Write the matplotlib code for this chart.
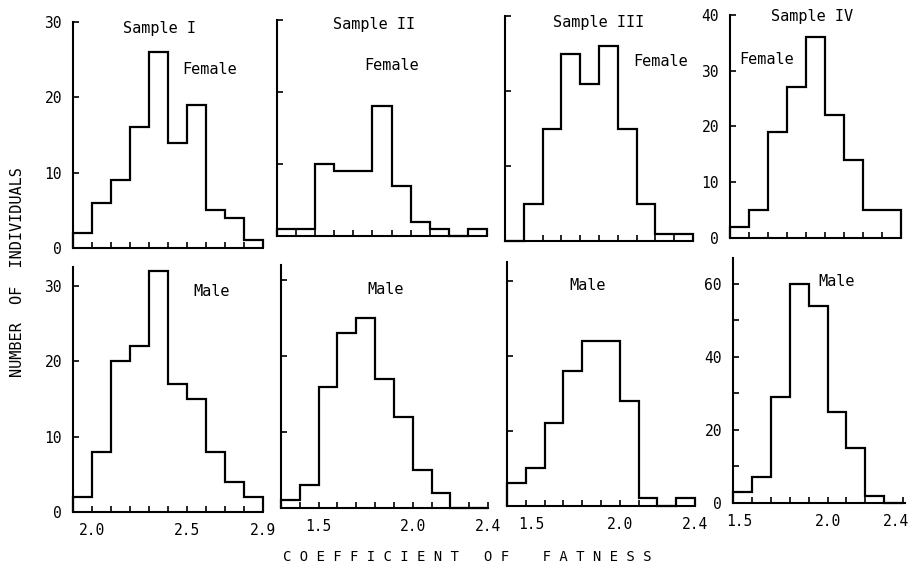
import matplotlib
matplotlib.use('Agg')
import matplotlib.pyplot as plt
from matplotlib.ticker import FixedLocator
from matplotlib.transforms import ScaledTranslation

W, H = 912, 571
fig = plt.figure(figsize=(W / 100, H / 100), dpi=100)
plt.rcParams['font.family'] = ['DejaVu Sans Mono', 'DejaVu Sans']

# ---------------- data ----------------
sample_names = ['Sample I', 'Sample II', 'Sample III', 'Sample IV']

edges_I = [1.9, 2.0, 2.1, 2.2, 2.3, 2.4, 2.5, 2.6, 2.7, 2.8, 2.9]
edges_II = [1.3, 1.4, 1.5, 1.6, 1.7, 1.8, 1.9, 2.0, 2.1, 2.2, 2.3, 2.4]
edges_III = [1.4, 1.5, 1.6, 1.7, 1.8, 1.9, 2.0, 2.1, 2.2, 2.3, 2.4]
edges_IV = [1.5, 1.6, 1.7, 1.8, 1.9, 2.0, 2.1, 2.2, 2.3, 2.4]

female_I = [2, 6, 9, 16, 26, 14, 19, 5, 4, 1]
male_I = [2, 8, 20, 22, 32, 17, 15, 8, 4, 2]
female_II = [1, 1, 10, 9, 9, 18, 7, 2, 1, 0, 1]
male_II = [1, 3, 16, 23, 25, 17, 12, 5, 2, 0, 0]
female_III = [0, 5, 15, 25, 21, 26, 15, 5, 1, 1]
male_III = [3, 5, 11, 18, 22, 22, 14, 1, 0, 1]
female_IV = [2, 5, 19, 27, 36, 22, 14, 5, 5]
male_IV = [3, 7, 29, 60, 54, 25, 15, 2, 0]

xlabels_I = ['2.0', '2.5', '2.9']
xlabels_II = ['1.5', '2.0', '2.4']
xlabels_III = ['1.5', '2.0', '2.4']
xlabels_IV = ['1.5', '2.0', '2.4']

yticks_30 = [0, 10, 20, 30]
yticks_female_IV = [0, 10, 20, 30, 40]
yticks_male_IV = [0, 20, 40, 60]
yminor_male_IV = [10, 30, 50]

ylabel_text = 'NUMBER  OF  INDIVIDUALS'
xlabel_text = 'C O E F F I C I E N T   O F    F A T N E S S'

# ---------------- layout (pixel boxes: left, right, bottom, top) ----------------
panels = [
    dict(edges=edges_I, vals=female_I, box=(73, 263, 248, 22), ytop=30, yt=yticks_30, ylab=True,
         xl=None, sex='Female', sexpos=(210, 69), title=sample_names[0], tpos=(160, 29)),
    dict(edges=edges_II, vals=female_II, box=(277, 487, 236, 20), ytop=30, yt=yticks_30, ylab=False,
         xl=None, sex='Female', sexpos=(392, 66), title=sample_names[1], tpos=(374, 25)),
    dict(edges=edges_III, vals=female_III, box=(505, 693, 241, 16), ytop=30, yt=yticks_30, ylab=False,
         xl=None, sex='Female', sexpos=(661, 62), title=sample_names[2], tpos=(599, 22)),
    dict(edges=edges_IV, vals=female_IV, box=(730, 901, 238, 15), ytop=40, yt=yticks_female_IV, ylab=True,
         xl=None, sex='Female', sexpos=(767, 59), title=sample_names[3], tpos=(812, 17)),
    dict(edges=edges_I, vals=male_I, box=(73, 263, 512, 267), ytop=32.5, yt=yticks_30, ylab=True,
         xl=xlabels_I, sex='Male', sexpos=(212, 292), title=None, tpos=None),
    dict(edges=edges_II, vals=male_II, box=(281, 488, 508, 265), ytop=32, yt=yticks_30, ylab=False,
         xl=xlabels_II, sex='Male', sexpos=(386, 289), title=None, tpos=None),
    dict(edges=edges_III, vals=male_III, box=(507, 695, 506, 262), ytop=32.5, yt=yticks_30, ylab=False,
         xl=xlabels_III, sex='Male', sexpos=(588, 286), title=None, tpos=None, shift_first=True),
    dict(edges=edges_IV, vals=male_IV, box=(733, 905, 503, 258), ytop=67, yt=yticks_male_IV, ylab=True,
         xl=xlabels_IV, sex='Male', sexpos=(837, 281), title=None, tpos=None, minor=yminor_male_IV,
         shift_last=True, shift_first=True),
]


def fx(x):
    return x / W


def fy(y):
    return 1 - y / H


for p in panels:
    l, r, b, t = p['box']
    ax = fig.add_axes([fx(l), fy(b), (r - l) / W, (b - t) / H])
    e = p['edges']
    ax.stairs(p['vals'], e, baseline=0, color='black', linewidth=1.6, clip_on=False)
    xmax = e[-1] + (0.01 if r > 903 else 0)
    ax.set_xlim(e[0], xmax)
    ax.set_ylim(0, p['ytop'])
    for s in ('top', 'right'):
        ax.spines[s].set_visible(False)
    for s in ('left', 'bottom'):
        ax.spines[s].set_linewidth(1.5)
    ticks = [round(v, 1) for v in e]
    ax.set_xticks(ticks)
    if p['xl'] is None:
        ax.set_xticklabels([])
    else:
        lab = [f'{v:.1f}' if f'{v:.1f}' in p['xl'] else '' for v in ticks]
        ax.set_xticklabels(lab)
    ax.set_yticks(p['yt'])
    if p['ylab']:
        ax.set_yticklabels([str(v) for v in p['yt']])
    else:
        ax.set_yticklabels([])
    if 'minor' in p:
        ax.yaxis.set_minor_locator(FixedLocator(p['minor']))
        ax.tick_params(axis='y', which='minor', direction='in', length=4, width=1.2)
    ax.tick_params(axis='both', which='major', direction='in', length=4, width=1.2,
                   labelsize=10.5)
    ax.tick_params(axis='x', pad=8)
    ax.tick_params(axis='y', pad=8)
    ax.patch.set_alpha(0)
    labels = ax.get_xticklabels()
    if p.get('shift_last'):
        lbl = labels[-1]
        lbl.set_transform(lbl.get_transform() + ScaledTranslation(-7 / 100, 0, fig.dpi_scale_trans))
    if p.get('shift_first'):
        for lbl in labels:
            if lbl.get_text() == '1.5':
                lbl.set_transform(lbl.get_transform() + ScaledTranslation(6 / 100, 0, fig.dpi_scale_trans))
    fig.text(fx(p['sexpos'][0]), fy(p['sexpos'][1]), p['sex'], ha='center', va='center', fontsize=11)
    if p['title']:
        fig.text(fx(p['tpos'][0]), fy(p['tpos'][1]), p['title'], ha='center', va='center', fontsize=11)

fig.text(fx(18), fy(272), ylabel_text, rotation=90, ha='center', va='center', fontsize=11)
fig.text(fx(467), fy(557), xlabel_text, ha='center', va='center', fontsize=10)

fig.savefig('out.png', dpi=100, facecolor='white')
